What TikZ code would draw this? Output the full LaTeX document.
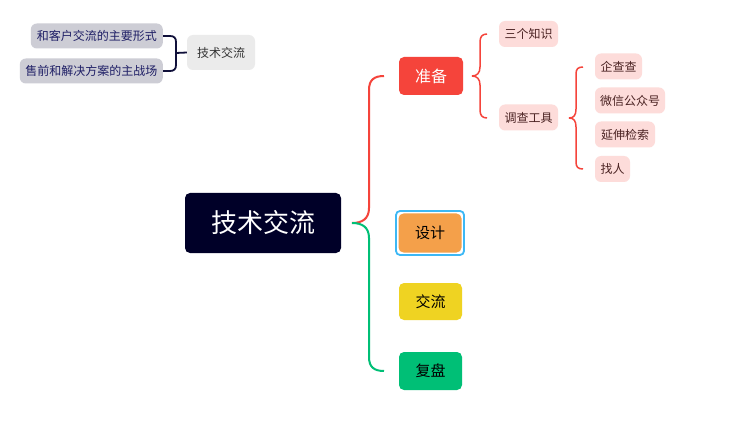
\documentclass[tikz,border=0pt]{standalone}
\usepackage{fontspec}
\setmainfont{Noto Sans CJK SC}
\begin{document}
\begin{tikzpicture}[x=1pt,y=-1pt,
  box/.style={rounded corners=5pt,inner sep=0pt,anchor=center},
  pinkbox/.style={box,fill=pinkc,text=pinktx,font=\fontsize{12}{14}\selectfont,minimum height=26pt,rounded corners=6pt},
  graybox/.style={box,fill=grayc,text=graytx,font=\fontsize{12}{14}\selectfont,minimum height=25pt,rounded corners=6pt},
  redline/.style={draw=redc,line width=2pt},
  subline/.style={draw=redc,line width=1.5pt},
]
\definecolor{navyc}{HTML}{000028}
\definecolor{redc}{HTML}{F5443B}
\definecolor{orangec}{HTML}{F4A04A}
\definecolor{yellowc}{HTML}{EFD322}
\definecolor{greenc}{HTML}{00BF76}
\definecolor{bluec}{HTML}{3DB8F5}
\definecolor{pinkc}{HTML}{FDDCDA}
\definecolor{pinktx}{HTML}{4A2222}
\definecolor{grayc}{HTML}{CDCDD5}
\definecolor{graytx}{HTML}{1F1F66}
\definecolor{lgrayc}{HTML}{EBEBEB}
\definecolor{bracec}{HTML}{10103A}
\useasboundingbox (0,0) rectangle (745,433);
\fill[white] (0,0) rectangle (745,433);

% main
\node[box,fill=navyc,text=white,minimum width=156pt,minimum height=60pt,font=\fontsize{26}{30}\selectfont] (main) at (263,223) {技术交流};
% level 1
\node[box,fill=redc,text=white,minimum width=64pt,minimum height=38pt,font=\fontsize{16}{18}\selectfont] (zb) at (431,76) {准备};
\node[box,draw=bluec,line width=1.8pt,minimum width=68pt,minimum height=44pt,rounded corners=4pt] (selring) at (430,233) {};
\node[box,fill=orangec,text=black,minimum width=63pt,minimum height=39pt,font=\fontsize{15}{18}\selectfont] (sj) at (430,233) {设计};
\node[box,fill=yellowc,text=black,minimum width=63pt,minimum height=37pt,font=\fontsize{15}{18}\selectfont] (jl) at (430.5,301.5) {交流};
\node[box,fill=greenc,text=black,minimum width=63pt,minimum height=38pt,font=\fontsize{15}{18}\selectfont] (fp) at (430.5,371) {复盘};

% main connectors
\coordinate (mo) at (352,223);
\draw[redline] (mo) .. controls (362,223) and (369,219) .. (369,208) -- (369,90) .. controls (369,80) and (374,76) .. (384,76) coordinate (zbin);
\draw[draw=greenc,line width=2pt] (mo) .. controls (362,223) and (369,227) .. (369,238) -- (369,357) .. controls (369,367) and (374,371) .. (384,371) coordinate (fpin);

% level 2 of 准备
\node[pinkbox,minimum width=59pt] (sgzs) at (528.5,34) {三个知识};
\node[pinkbox,minimum width=59pt] (dcgj) at (528.5,117.5) {调查工具};
\coordinate (b1) at (472,76);
\draw[subline] (b1) .. controls (477,76) and (480,73) .. (480,67) -- (480,42) .. controls (480,37) and (482,34) .. (487,34);
\draw[subline] (b1) .. controls (477,76) and (480,79) .. (480,85) -- (480,110) .. controls (480,115) and (482,118) .. (487,118);

% level 3
\node[pinkbox,minimum width=47pt] (qcc) at (618.5,66.5) {企查查};
\node[pinkbox,minimum width=70pt] (wx) at (630,100.5) {微信公众号};
\node[pinkbox,minimum width=60pt] (yy) at (625,134.5) {延伸检索};
\node[pinkbox,minimum width=35pt] (zr) at (612.5,169) {找人};
\coordinate (b2) at (569,118);
\draw[subline] (b2) .. controls (574,118) and (576,115) .. (576,109) -- (576,74) .. controls (576,69) and (578,67) .. (583,67);
\draw[subline] (b2) .. controls (574,118) and (576,121) .. (576,127) -- (576,162) .. controls (576,167) and (578,169) .. (583,169);

% top-left
\node[box,fill=lgrayc,text=black!80,minimum width=68pt,minimum height=35pt,rounded corners=6pt,font=\fontsize{12}{14}\selectfont] (tl) at (221,52.5) {技术交流};
\node[graybox,minimum width=132pt,anchor=east] (g1) at (163,36) {和客户交流的主要形式};
\node[graybox,minimum width=143pt,anchor=east] (g2) at (163,71) {售前和解决方案的主战场};
\draw[draw=bracec,line width=1.8pt] (g1.east) -- (170,36) .. controls (174,36) and (176,38) .. (176,42) -- (176,65) .. controls (176,69) and (174,71) .. (170,71) -- (g2.east);
\draw[draw=bracec,line width=1.8pt] (176,53) -- (tl.west);
\end{tikzpicture}
\end{document}
